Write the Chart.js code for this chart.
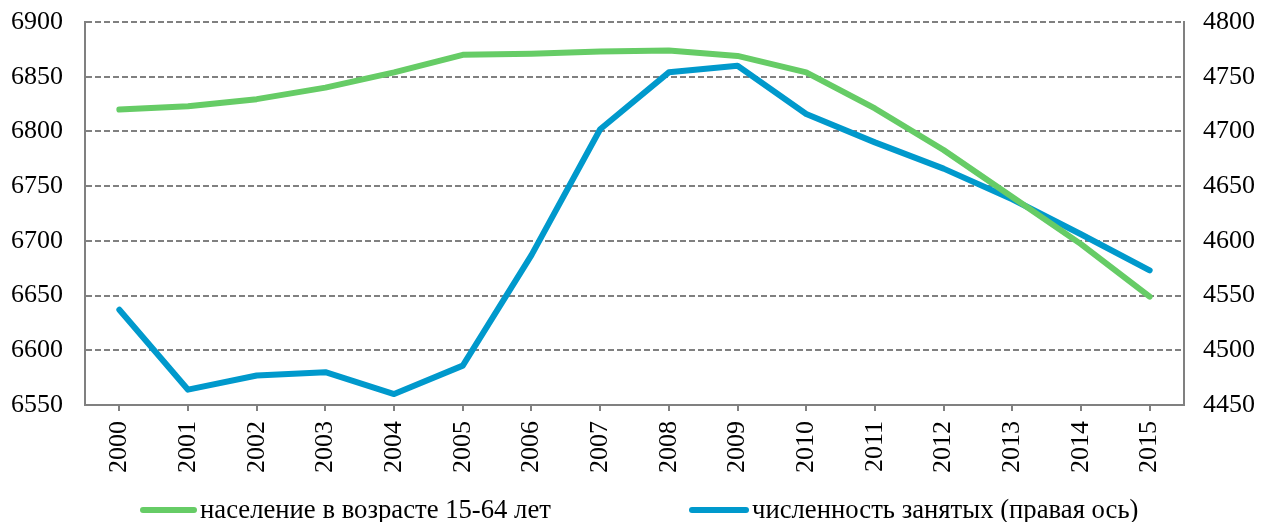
<!DOCTYPE html>
<html>
<head>
<meta charset="utf-8">
<script src="https://cdn.jsdelivr.net/npm/chart.js@4"></script>
<style>
  html, body { margin: 0; padding: 0; background: #fff; }
  #wrap { width: 1269px; height: 522px; position: relative; }
</style>
</head>
<body>
<div id="wrap"><canvas id="lineCanvas"></canvas></div>
<script>
// ------DATA--------
const years = ["2000", "2001", "2002", "2003", "2004", "2005", "2006", "2007",
               "2008", "2009", "2010", "2011", "2012", "2013", "2014", "2015"];
const population = [6820, 6823, 6829.5, 6840, 6854, 6870, 6871, 6873, 6874, 6869, 6854, 6821, 6783, 6740, 6697, 6649];
const employed = [4537, 4464, 4477, 4480, 4460, 4486, 4587, 4702, 4754, 4760, 4716, 4690, 4666, 4638, 4606, 4573];
const leftTicks = [6550, 6900, 50];   // min, max, step
const rightTicks = [4450, 4800, 50];
const seriesNames = ["население в возрасте 15-64 лет", "численность занятых (правая ось)"];

const GREEN = "#66CC66";
const BLUE = "#0099CC";
const GRID = "#808080";
const FONT = "'Liberation Serif', 'Times New Roman', serif";

// legend drawn by hand so the spacing matches
const legendPlugin = {
    id: "manualLegend",
    afterDraw(chart) {
        const ctx = chart.ctx;
        const items = [
            { color: GREEN, x: 140, w: 57, text: seriesNames[0] },
            { color: BLUE, x: 689, w: 60, text: seriesNames[1] }
        ];
        const y = 510;
        ctx.save();
        ctx.font = "26.7px " + FONT;
        ctx.textBaseline = "middle";
        ctx.fillStyle = "#000";
        items.forEach(it => {
            ctx.strokeStyle = it.color;
            ctx.lineWidth = 6;
            ctx.lineCap = "round";
            ctx.beginPath();
            ctx.moveTo(it.x + 3, y);
            ctx.lineTo(it.x + it.w - 3, y);
            ctx.stroke();
            ctx.fillText(it.text, it.x + it.w + 3, y + 1);
        });
        ctx.restore();
    }
};

const plainNumber = v => String(v);

const lineCanvas = document.getElementById("lineCanvas");

const lineChart = new Chart(lineCanvas, {
    type: "line",
    data: {
        labels: years,
        datasets: [
            {
                label: seriesNames[0],
                data: population,
                yAxisID: "yLeft",
                borderColor: GREEN,
                backgroundColor: GREEN,
                borderWidth: 6,
                borderCapStyle: "round",
                borderJoinStyle: "round",
                pointRadius: 0,
                tension: 0
            },
            {
                label: seriesNames[1],
                data: employed,
                yAxisID: "yRight",
                borderColor: BLUE,
                backgroundColor: BLUE,
                borderWidth: 6,
                borderCapStyle: "round",
                borderJoinStyle: "round",
                pointRadius: 0,
                tension: 0
            }
        ]
    },
    options: {
        responsive: true,
        maintainAspectRatio: false,
        animation: false,
        devicePixelRatio: 1,
        layout: { padding: { top: 22, bottom: 0, left: 0, right: 0 } },
        plugins: {
            legend: { display: false },
            tooltip: { enabled: false }
        },
        scales: {
            x: {
                offset: true,
                grid: { display: true, drawOnChartArea: false, drawTicks: true, tickLength: 6, color: GRID, lineWidth: 2 },
                border: { display: true, color: GRID, width: 2 },
                ticks: {
                    color: "#000",
                    font: { family: FONT, size: 26 },
                    minRotation: 90,
                    maxRotation: 90,
                    padding: 10,
                    autoSkip: false
                },
                afterFit(scale) { scale.height = 117; }
            },
            yLeft: {
                position: "left",
                min: leftTicks[0],
                max: leftTicks[1],
                // invisible tick marks push the labels away from the axis
                ticks: { stepSize: leftTicks[2], color: "#000", font: { family: FONT, size: 26 }, padding: 0, callback: plainNumber },
                grid: { color: GRID, lineWidth: 2, drawTicks: true, tickLength: 22, tickColor: "rgba(0,0,0,0)" },
                border: { display: true, color: GRID, width: 2, dash: [6, 3] },
                afterFit(scale) { scale.width = 85; }
            },
            yRight: {
                position: "right",
                min: rightTicks[0],
                max: rightTicks[1],
                ticks: { stepSize: rightTicks[2], color: "#000", font: { family: FONT, size: 26 }, padding: 0, callback: plainNumber },
                grid: { drawOnChartArea: false, drawTicks: true, tickLength: 19, tickColor: "rgba(0,0,0,0)" },
                border: { display: true, color: GRID, width: 2 },
                afterFit(scale) { scale.width = 85; }
            }
        }
    },
    plugins: [legendPlugin]
});
</script>
</body>
</html>
